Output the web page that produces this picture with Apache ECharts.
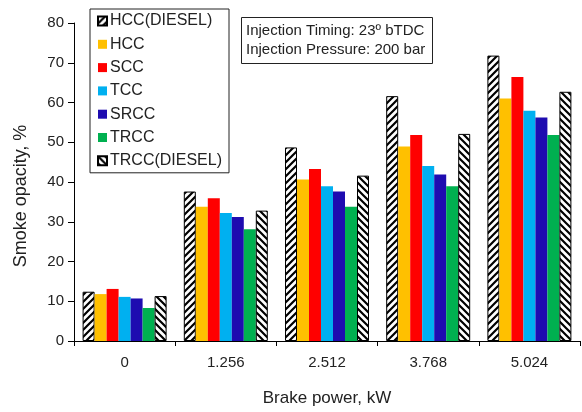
<!DOCTYPE html>
<html>
<head>
<meta charset="utf-8">
<script src="https://cdn.jsdelivr.net/npm/echarts@6/dist/echarts.min.js"></script>
<style>
  html, body { margin: 0; padding: 0; background: #fff; }
  #chart { width: 582px; height: 412px; }
</style>
</head>
<body>
<div id="chart"></div>
<script>
var categories = ["0", "1.256", "2.512", "3.768", "5.024"];
var seriesNames = ["HCC(DIESEL)", "HCC", "SCC", "TCC", "SRCC", "TRCC", "TRCC(DIESEL)"];

var hccDiesel = [12.4, 37.6, 48.7, 61.6, 71.8];
var hcc = [11.8, 33.8, 40.6, 48.9, 61.0];
var scc = [13.1, 35.9, 43.3, 51.8, 66.4];
var tcc = [11.1, 32.2, 38.9, 44.0, 57.9];
var srcc = [10.7, 31.2, 37.6, 41.9, 56.2];
var trcc = [8.3, 28.1, 33.8, 38.9, 51.8];
var trccDiesel = [11.3, 32.8, 41.6, 52.1, 62.7];

var yTicks = [0, 10, 20, 30, 40, 50, 60, 70, 80];

// striped fill for the diesel bars
function stripes(forward) {
  var s = 7;
  var c = document.createElement("canvas");
  c.width = s;
  c.height = s;
  var ctx = c.getContext("2d");
  ctx.fillStyle = "#fff";
  ctx.fillRect(0, 0, s, s);
  ctx.strokeStyle = "#000";
  ctx.lineWidth = 2.2;
  ctx.beginPath();
  if (forward) {
    ctx.moveTo(-1, s + 1); ctx.lineTo(s + 1, -1);
    ctx.moveTo(-1, 1); ctx.lineTo(1, -1);
    ctx.moveTo(s - 1, s + 1); ctx.lineTo(s + 1, s - 1);
  } else {
    ctx.moveTo(-1, -1); ctx.lineTo(s + 1, s + 1);
    ctx.moveTo(s - 1, -1); ctx.lineTo(s + 1, 1);
    ctx.moveTo(-1, s - 1); ctx.lineTo(1, s + 1);
  }
  ctx.stroke();
  return { image: c, repeat: "repeat" };
}

var fills = [stripes(true), "#FFC000", "#FF0000", "#00B0F0", "#1E0CB0", "#00B050", stripes(false)];
var values = [hccDiesel, hcc, scc, tcc, srcc, trcc, trccDiesel];

var font = "'Liberation Sans', Arial, sans-serif";

var series = seriesNames.map(function (name, i) {
  var hatched = i === 0 || i === 6;
  return {
    name: name,
    type: "bar",
    data: values[i],
    barWidth: 12,
    barGap: "0%",
    itemStyle: {
      color: fills[i],
      borderColor: hatched ? "#000" : null,
      borderWidth: hatched ? 1 : 0
    }
  };
});

var myChart = echarts.init(document.getElementById("chart"));

myChart.setOption({
  animation: false,
  backgroundColor: "#fff",
  textStyle: { fontFamily: font },
  title: {
    text: "Injection Timing: 23º bTDC\nInjection Pressure: 200 bar",
    left: 241,
    top: 17,
    padding: [4, 7, 5, 5],
    borderColor: "#222",
    borderWidth: 1,
    textStyle: {
      fontFamily: font,
      fontSize: 15,
      fontWeight: "normal",
      color: "#222",
      lineHeight: 19
    }
  },
  legend: {
    orient: "vertical",
    left: 90,
    top: 9,
    padding: [4, 7, 4, 7],
    borderColor: "#222",
    borderWidth: 1,
    itemWidth: 9,
    itemHeight: 9,
    itemGap: 7.3,
    icon: "rect",
    data: seriesNames,
    textStyle: {
      fontFamily: font,
      fontSize: 16,
      color: "#222",
      lineHeight: 16,
      padding: [0, 0, 0, -2]
    }
  },
  grid: {
    left: 74,
    right: 2,
    top: 23,
    bottom: 71,
    containLabel: false
  },
  xAxis: {
    type: "category",
    data: categories,
    name: "Brake power, kW",
    nameLocation: "middle",
    nameGap: 49,
    nameTextStyle: { fontFamily: font, fontSize: 17, color: "#222" },
    axisLine: { lineStyle: { color: "#000", width: 1 } },
    axisTick: { show: true, length: 5, lineStyle: { color: "#000" } },
    axisLabel: { fontFamily: font, fontSize: 15, color: "#222", margin: 14 }
  },
  yAxis: {
    type: "value",
    min: yTicks[0],
    max: yTicks[yTicks.length - 1],
    interval: 10,
    name: "Smoke opacity, %",
    nameLocation: "middle",
    nameGap: 44,
    nameTextStyle: { fontFamily: font, fontSize: 18, color: "#222", padding: [0, 28, 0, 0] },
    axisLine: { show: true, lineStyle: { color: "#000", width: 1 } },
    axisTick: { show: true, length: 6, lineStyle: { color: "#000" } },
    axisLabel: { fontFamily: font, fontSize: 15, color: "#222", margin: 10 },
    splitLine: { show: false }
  },
  series: series
});
</script>
</body>
</html>
